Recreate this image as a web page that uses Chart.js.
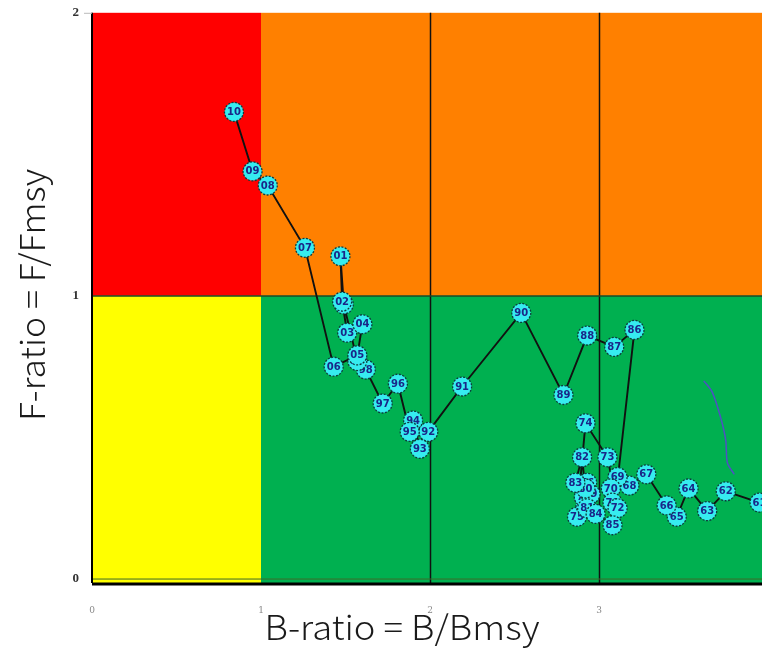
<!DOCTYPE html>
<html>
<head>
<meta charset="utf-8">
<script src="https://cdn.jsdelivr.net/npm/chart.js@4/dist/chart.umd.min.js"></script>
<style>
  html, body { margin: 0; padding: 0; background: #fff; overflow: hidden; }
  #wrap { width: 800px; height: 648px; }
</style>
</head>
<body>
<div id="wrap"><canvas id="kobe" width="800" height="648"></canvas></div>
<script>
// year labels and the stock trajectory (B/Bmsy, F/Fmsy)
const years = ['61','62','63','64','65','66','67','68','69','70',
               '71','72','73','74','75','76','77','78','79','80',
               '81','82','83','84','85','86','87','88','89','90',
               '91','92','93','94','95','96','97','98','99','00',
               '01','02','03','04','05','06','07','08','09','10'];
const bRatio = [3.95, 3.75, 3.64, 3.53, 3.46, 3.40, 3.28, 3.18, 3.11, 3.07,
                3.08, 3.11, 3.05, 2.92, 2.87, 2.93, 2.92, 2.91, 2.95, 2.92,
                2.93, 2.90, 2.86, 2.98, 3.08, 3.21, 3.09, 2.93, 2.79, 2.54,
                2.19, 1.99, 1.94, 1.90, 1.88, 1.81, 1.72, 1.62, 1.57, 1.49,
                1.47, 1.48, 1.51, 1.60, 1.57, 1.43, 1.26, 1.04, 0.95, 0.84];
const fRatio = [0.27, 0.31, 0.24, 0.32, 0.22, 0.26, 0.37, 0.33, 0.36, 0.32,
                0.27, 0.25, 0.43, 0.55, 0.22, 0.34, 0.26, 0.29, 0.30, 0.32,
                0.25, 0.43, 0.34, 0.23, 0.19, 0.88, 0.82, 0.86, 0.65, 0.94,
                0.68, 0.52, 0.46, 0.56, 0.52, 0.69, 0.62, 0.74, 0.77, 0.97,
                1.14, 0.98, 0.87, 0.90, 0.79, 0.75, 1.17, 1.39, 1.44, 1.65];
const xTicks = [0, 1, 2, 3, 4];
const yTicks = [0, 1, 2];
// hand-drawn pen stroke on the right
const penX = [3.62, 3.67, 3.72, 3.75, 3.76, 3.80];
const penY = [0.70, 0.66, 0.57, 0.49, 0.41, 0.37];

const zones = {
  id: 'zones',
  beforeDatasetsDraw(chart) {
    const { ctx, chartArea: a, scales: { x, y } } = chart;
    const x1 = x.getPixelForValue(1), y1 = y.getPixelForValue(1), y0 = y.getPixelForValue(0);
    ctx.save();
    ctx.fillStyle = '#ff0000'; ctx.fillRect(a.left, a.top, x1 - a.left, y1 - a.top);
    ctx.fillStyle = '#ff8000'; ctx.fillRect(x1, a.top, a.right - x1, y1 - a.top);
    ctx.fillStyle = '#ffff00'; ctx.fillRect(a.left, y1, x1 - a.left, a.bottom - y1);
    ctx.fillStyle = '#00b050'; ctx.fillRect(x1, y1, a.right - x1, a.bottom - y1);

    ctx.strokeStyle = '#111';
    ctx.lineWidth = 1.5;
    [2, 3].forEach(v => {
      const p = Math.round(x.getPixelForValue(v)) + 0.5;
      ctx.beginPath(); ctx.moveTo(p, a.top); ctx.lineTo(p, a.bottom); ctx.stroke();
    });
    ctx.strokeStyle = '#1d4a24';
    ctx.lineWidth = 1.5;
    ctx.beginPath(); ctx.moveTo(a.left, y1); ctx.lineTo(a.right, y1); ctx.stroke();
    ctx.strokeStyle = '#3d6a2a';
    ctx.lineWidth = 1;
    ctx.beginPath(); ctx.moveTo(a.left, y0); ctx.lineTo(a.right, y0); ctx.stroke();

    ctx.strokeStyle = '#000';
    ctx.lineWidth = 3;
    ctx.beginPath(); ctx.moveTo(a.left, a.bottom + 1); ctx.lineTo(a.right, a.bottom + 1); ctx.stroke();
    ctx.lineWidth = 2;
    ctx.beginPath(); ctx.moveTo(a.left, a.top); ctx.lineTo(a.left, a.bottom); ctx.stroke();
    ctx.strokeStyle = '#bbb';
    ctx.lineWidth = 1;
    ctx.beginPath(); ctx.moveTo(a.left - 8, a.top + 0.5); ctx.lineTo(a.left, a.top + 0.5); ctx.stroke();
    ctx.restore();
  }
};

const markers = {
  id: 'markers',
  afterDatasetsDraw(chart) {
    const ctx = chart.ctx;
    const meta = chart.getDatasetMeta(0);
    ctx.save();
    ctx.textAlign = 'center';
    ctx.textBaseline = 'middle';
    ctx.font = 'bold 10px "DejaVu Sans", sans-serif';
    meta.data.forEach((pt, i) => {
      ctx.beginPath();
      ctx.arc(pt.x, pt.y, 9.5, 0, Math.PI * 2);
      ctx.fillStyle = '#36ecf0';
      ctx.fill();
      ctx.setLineDash([2, 1.5]);
      ctx.lineWidth = 1.3;
      ctx.strokeStyle = '#0e3c3e';
      ctx.stroke();
      ctx.setLineDash([]);
      ctx.fillStyle = '#1a2688';
      ctx.fillText(years[i], pt.x, pt.y + 0.5);
    });
    ctx.restore();
  }
};

function squeezedText(ctx, text, cx, cy, width, angle) {
  ctx.save();
  ctx.translate(cx, cy);
  ctx.rotate(angle);
  const w = ctx.measureText(text).width;
  ctx.scale(width / w, 1);
  ctx.fillText(text, 0, 0);
  ctx.restore();
}

const titles = {
  id: 'titles',
  afterDraw(chart) {
    const ctx = chart.ctx;
    ctx.save();
    ctx.fillStyle = '#1a1a1a';
    ctx.font = '300 34px "Noto Sans CJK JP", "Noto Sans", sans-serif';
    ctx.textAlign = 'center';
    ctx.textBaseline = 'alphabetic';
    squeezedText(ctx, 'B-ratio = B/Bmsy', 402, 640, 275, 0);
    squeezedText(ctx, 'F-ratio = F/Fmsy', 45, 295, 252, -Math.PI / 2);
    ctx.restore();
  }
};

new Chart(document.getElementById('kobe'), {
  type: 'scatter',
  data: {
    datasets: [
      {
        data: bRatio.map((b, i) => ({ x: b, y: fRatio[i] })),
        showLine: true,
        borderColor: '#111',
        borderWidth: 1.9,
        pointRadius: 0
      },
      {
        data: penX.map((v, i) => ({ x: v, y: penY[i] })),
        showLine: true,
        borderColor: '#4f4fc4',
        borderWidth: 1.5,
        tension: 0.3,
        pointRadius: 0
      }
    ]
  },
  options: {
    responsive: false,
    animation: false,
    layout: { padding: { top: 12, right: 32, left: 0, bottom: 0 } },
    plugins: { legend: { display: false }, tooltip: { enabled: false } },
    scales: {
      x: {
        min: 0, max: 4,
        afterBuildTicks: s => { s.ticks = xTicks.map(v => ({ value: v })); },
        afterFit: s => { s.height = 65; },
        grid: { display: false },
        border: { display: false },
        ticks: { color: '#888', font: { size: 9, family: 'DejaVu Serif' }, padding: 14 }
      },
      y: {
        min: -0.014, max: 2,
        afterBuildTicks: s => { s.ticks = yTicks.map(v => ({ value: v })); },
        afterFit: s => { s.width = 92; },
        grid: { display: false },
        border: { display: false },
        ticks: { color: '#333', font: { size: 13, weight: 'bold', family: 'Liberation Serif' }, padding: 5 }
      }
    }
  },
  plugins: [zones, markers, titles]
});
</script>
</body>
</html>
